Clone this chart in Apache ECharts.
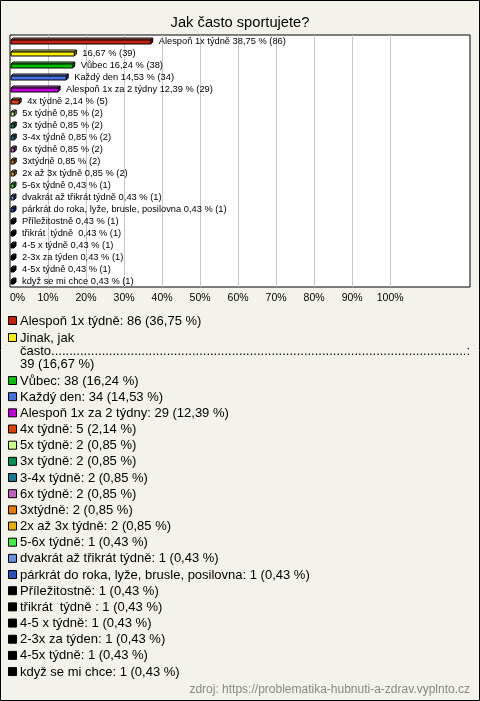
<!DOCTYPE html>
<html><head><meta charset="utf-8">
<script src="https://cdn.jsdelivr.net/npm/echarts@6/dist/echarts.min.js"></script>
<style>html,body{margin:0;padding:0;background:#f4f3eb}#c{width:480px;height:701px}</style>
</head><body><div id="c"></div>
<script>
const titleText = 'Jak často sportujete?';
const barNames = ['Alespoň 1x týdně','','Vůbec','Každý den','Alespoň 1x za 2 týdny','4x týdně','5x týdně','3x týdně','3-4x týdně','6x týdně','3xtýdně','2x až 3x týdně','5-6x týdně','dvakrát až třikrát týdně','párkrát do roka, lyže, brusle, posilovna','Příležitostně','třikrát  týdně ','4-5 x týdně','2-3x za týden','4-5x týdně','když se mi chce'];
const legendNames = ['Alespoň 1x týdně','Jinak, jak často','Vůbec','Každý den','Alespoň 1x za 2 týdny','4x týdně','5x týdně','3x týdně','3-4x týdně','6x týdně','3xtýdně','2x až 3x týdně','5-6x týdně','dvakrát až třikrát týdně','párkrát do roka, lyže, brusle, posilovna','Příležitostně','třikrát  týdně ','4-5 x týdně','2-3x za týden','4-5x týdně','když se mi chce'];
const counts = [86,39,38,34,29,5,2,2,2,2,2,2,1,1,1,1,1,1,1,1,1];
const percents = [36.75,16.67,16.24,14.53,12.39,2.14,0.85,0.85,0.85,0.85,0.85,0.85,0.43,0.43,0.43,0.43,0.43,0.43,0.43,0.43,0.43];
const barPctText = ['38,75','16,67','16,24','14,53','12,39','2,14','0,85','0,85','0,85','0,85','0,85','0,85','0,43','0,43','0,43','0,43','0,43','0,43','0,43','0,43','0,43'];
const colors = ['#c8200c','#f8ec00','#00c000','#4a70e8','#c000d8','#e04000','#ccff88','#00905a','#187890','#c060c0','#e87800','#e8b000','#40f040','#6890e0','#2850c0','#000000','#000000','#000000','#000000','#000000','#000000'];
const xTicks = [0,10,20,30,40,50,60,70,80,90,100];
const sourceText = 'zdroj: https://problematika-hubnuti-a-zdrav.vyplnto.cz';

function fmt(v){ return v.toFixed(2).replace('.', ','); }
function shade(hex, f){
  let r=parseInt(hex.substr(1,2),16),g=parseInt(hex.substr(3,2),16),b=parseInt(hex.substr(5,2),16);
  if(f>0){r=r+(255-r)*f;g=g+(255-g)*f;b=b+(255-b)*f;} else {r=r*(1+f);g=g*(1+f);b=b*(1+f);}
  return 'rgb('+Math.round(r)+','+Math.round(g)+','+Math.round(b)+')';
}

const chart = echarts.init(document.getElementById('c'), null, {renderer:'canvas'});
const FONT = 'Liberation Sans, Arial, sans-serif';

const data = percents.map((p,i)=>[p,i]);

function renderItem(params, api){
  const idx = api.value(1);
  const v = api.value(0);
  const s = api.coord([0, idx]);
  const e = api.coord([v, idx]);
  const w = Math.max(e[0]-s[0], 3);
  const x = s[0]+1, y = s[1]-1, h = 4, d = 2;
  const c = colors[idx];
  const label = (barNames[idx] ? barNames[idx] + ' ' : '') + barPctText[idx] + ' % (' + counts[idx] + ')';
  return {type:'group', children:[
    {type:'polygon', shape:{points:[[x,y],[x+d,y-d],[x+w+d,y-d],[x+w,y]]}, style:{fill:shade(c,0.35),stroke:'#000',lineWidth:1}},
    {type:'polygon', shape:{points:[[x+w,y],[x+w+d,y-d],[x+w+d,y-d+h],[x+w,y+h]]}, style:{fill:shade(c,-0.35),stroke:'#000',lineWidth:1}},
    {type:'rect', shape:{x:x,y:y,width:w,height:h}, style:{fill:c,stroke:'#000',lineWidth:1}},
    {type:'text', x:x+w+d+6, y:y+h/2-1, style:{text:label, fill:'#000', font:'9.3px '+FONT, verticalAlign:'middle', align:'left'}}
  ]};
}

const graphics = [];
graphics.push({type:'rect', shape:{x:0.5,y:0.5,width:479,height:700}, style:{fill:'none',stroke:'#000',lineWidth:1}, silent:true});
let ly = 321;
const LF = '13px ' + FONT;
for(let i=0;i<legendNames.length;i++){
  graphics.push({type:'rect', shape:{x:8.5,y:ly-4.5,width:8,height:8}, style:{fill:colors[i],stroke:'#000',lineWidth:1}});
  if(i===1){
    const parts = legendNames[i].split(' ');
    const l1 = parts.slice(0,2).join(' ');
    const l2 = parts[2] + '.'.repeat(115) + ':';
    const l3 = counts[i] + ' (' + fmt(percents[i]) + ' %)';
    [l1,l2,l3].forEach((t,k)=>{
      graphics.push({type:'text', x:20, y:ly+k*13, style:{text:t, fill:'#000', font:LF, verticalAlign:'middle'}});
    });
    ly += 26 + 17;
  } else {
    graphics.push({type:'text', x:20, y:ly, style:{text:legendNames[i] + ': ' + counts[i] + ' (' + fmt(percents[i]) + ' %)', fill:'#000', font:LF, verticalAlign:'middle'}});
    ly += (i===0 ? 17 : 16.17);
  }
}
graphics.push({type:'text', right:10, top:684, style:{text:sourceText, fill:'#888', font:'12px '+FONT}});

const splitColors = [];
for(let t=0;t<=120;t+=10){ splitColors.push(t>0 && t<=100 ? '#c8c8c8' : 'rgba(0,0,0,0)'); }

chart.setOption({
  backgroundColor:'#f4f3eb',
  animation:false,
  title:{text:titleText, left:'center', top:10, textStyle:{fontFamily:FONT, fontSize:14.7, fontWeight:'normal', color:'#000'}},
  grid:{left:10, top:35, width:460, height:252, show:true, backgroundColor:'#fff', borderColor:'#000', borderWidth:1, containLabel:false},
  xAxis:{type:'value', min:0, max:121, interval:10,
    axisLine:{show:false}, axisTick:{show:false},
    axisLabel:{formatter:v=> xTicks.indexOf(v)>=0 ? v+'%' : '', color:'#000', fontFamily:FONT, fontSize:10.5, margin:6, alignMinLabel:'left', showMaxLabel:false},
    splitLine:{show:true, lineStyle:{color:splitColors, width:1}}},
  yAxis:{type:'category', data:barNames, inverse:true, axisLine:{show:false}, axisTick:{show:false}, axisLabel:{show:false}, splitLine:{show:false}},
  series:[{type:'custom', renderItem:renderItem, data:data, encode:{x:0,y:1}, clip:false}],
  graphic:graphics
});
</script></body></html>
